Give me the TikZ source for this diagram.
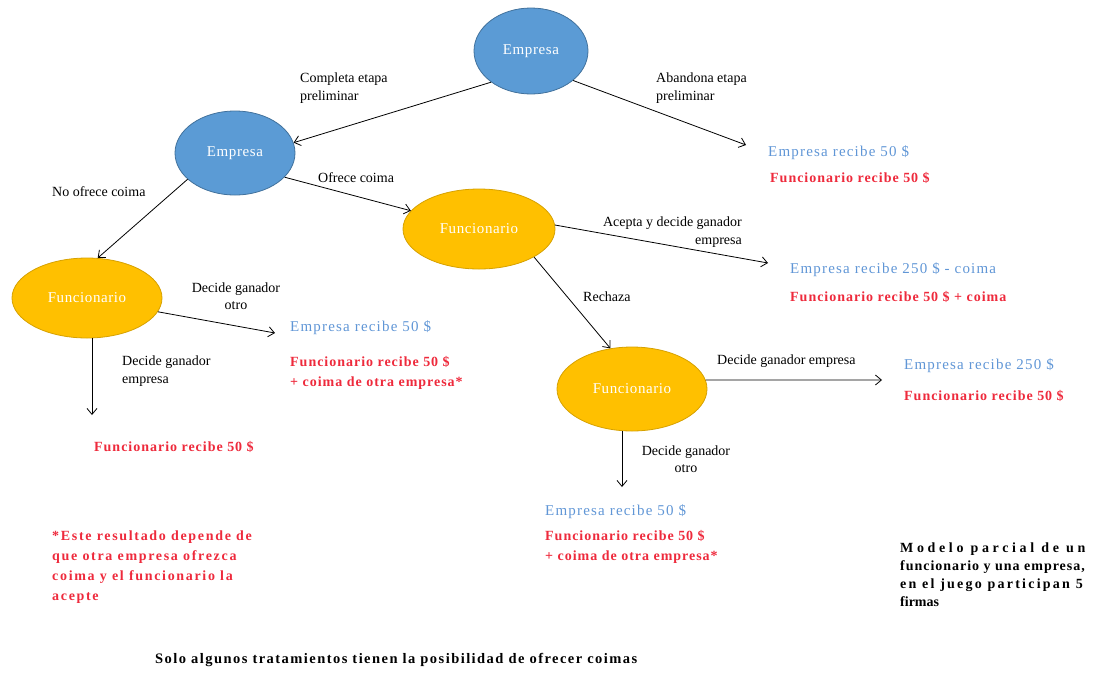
\documentclass[tikz,border=0pt]{standalone}
\usepackage{fontspec}
\setmainfont{Liberation Serif}
\newfontfamily\redfont[LetterSpace=7]{Liberation Serif}
\newfontfamily\fnfont[LetterSpace=12]{Liberation Serif}
\newfontfamily\bluefont[LetterSpace=8]{Liberation Serif}
\newfontfamily\ellfont[LetterSpace=4]{Liberation Serif}
\newfontfamily\notefont{Liberation Serif}
\newfontfamily\bottomfont[LetterSpace=10]{Liberation Serif}
\usetikzlibrary{shapes.geometric,arrows.meta}
\definecolor{eblue}{HTML}{5B9BD5}
\definecolor{eblueedge}{HTML}{41719C}
\definecolor{forange}{HTML}{FFC000}
\definecolor{forangeedge}{HTML}{D6A100}
\definecolor{tblue}{HTML}{6096D6}
\definecolor{tred}{HTML}{EE2A3C}
\begin{document}
\begin{tikzpicture}[x=1pt,y=-1pt,
  empresa/.style={ellipse,fill=eblue,draw=eblueedge,line width=0.8pt,text=white,font=\ellfont\fontsize{15}{17}\selectfont},
  funcionario/.style={ellipse,fill=forange,draw=forangeedge,line width=0.8pt,text=white,font=\ellfont\fontsize{15}{17}\selectfont},
  lbl/.style={font=\fontsize{14}{17.5}\selectfont,inner sep=0pt},
  bluetxt/.style={text=tblue,font=\bluefont\fontsize{15}{18}\selectfont,anchor=west,inner sep=0pt},
  redtxt/.style={text=tred,font=\redfont\bfseries\fontsize{14}{20}\selectfont,anchor=west,inner sep=0pt,align=left},
  fntxt/.style={text=tred,font=\fnfont\bfseries\fontsize{14}{20}\selectfont,anchor=west,inner sep=0pt,align=left},
  blacknote/.style={font=\notefont\bfseries\fontsize{14}{18}\selectfont,anchor=west,inner sep=0pt,align=left},
  bottomtxt/.style={font=\bottomfont\bfseries\fontsize{14.5}{18}\selectfont,anchor=west,inner sep=0pt},
  arr/.style={-{Straight Barb[length=6pt,width=10pt]},line width=0.8pt}]
\useasboundingbox (0,0) rectangle (1103,681);
% nodes
\node[empresa,minimum width=114pt,minimum height=86pt] (e1) at (531,51) {Empresa};
\node[empresa,minimum width=120pt,minimum height=84pt] (e2) at (235,153) {Empresa};
\node[funcionario,minimum width=152pt,minimum height=80pt] (fM) at (479,229) {Funcionario};
\node[funcionario,minimum width=150pt,minimum height=80pt] (fL) at (87,298) {Funcionario};
\node[funcionario,minimum width=150pt,minimum height=84pt] (fB) at (632,389) {Funcionario};
% arrow end points
\coordinate (c1) at (746,145);
\coordinate (c2) at (768,263);
\coordinate (c3) at (275,333);
\coordinate (c4s) at (92,338);
\coordinate (c4) at (92,415);
\coordinate (c5) at (882,380);
\coordinate (c6s) at (622,431);
\coordinate (c6) at (622,487);
% connectors
\draw[arr] (e1.218) -- (e2.10);
\draw[arr] (e1.-35) -- (c1);
\draw[arr] (e2.209) -- (fL.75);
\draw[arr] (e2.-26) -- (fM.165);
\draw[arr] (fM.3) -- (c2);
\draw[arr] (fM.-27) -- (fB.118);
\draw[arr] (fL.-11) -- (c3);
\draw[arr] (c4s) -- (c4);
\draw[arr] (fB.7) -- (c5);
\draw[arr] (c6s) -- (c6);
% edge labels
\node[lbl,anchor=west,align=left] (l1) at (300,88) {Completa etapa\\preliminar};
\node[lbl,anchor=west,align=left] (l2) at (656,88) {Abandona etapa\\preliminar};
\node[lbl,anchor=west] (l3) at (52,192) {No ofrece coima};
\node[lbl,anchor=west] (l4) at (318,178) {Ofrece coima};
\node[lbl,anchor=east,align=right] (l5) at (742,232) {Acepta y decide ganador\\empresa};
\node[lbl,anchor=west] (l6) at (583,297) {Rechaza};
\node[lbl,align=center] (l7) at (236,296) {Decide ganador\\otro};
\node[lbl,anchor=west,align=left] (l8) at (122,371) {Decide ganador\\empresa};
\node[lbl,anchor=west] (l9) at (717,361) {Decide ganador empresa};
\node[lbl,align=center] (l10) at (686,459) {Decide ganador\\otro};
% payoffs
\node[bluetxt] (p1b) at (768,153) {Empresa recibe 50 \$};
\node[redtxt] (p1r) at (770,178) {Funcionario recibe 50 \$};
\node[bluetxt] (p2b) at (790,270) {Empresa recibe 250 \$ - coima};
\node[redtxt] (p2r) at (790,297) {Funcionario recibe 50 \$ + coima};
\node[bluetxt] (p3b) at (290,328) {Empresa recibe 50 \$};
\node[redtxt] (p3r) at (290,373) {Funcionario recibe 50 \$\\+ coima de otra empresa*};
\node[redtxt] (p4r) at (94,447) {Funcionario recibe 50 \$};
\node[bluetxt] (p5b) at (904,366) {Empresa recibe 250 \$};
\node[redtxt] (p5r) at (904,396) {Funcionario recibe 50 \$};
\node[bluetxt] (p6b) at (545,512) {Empresa recibe 50 \$};
\node[redtxt] (p6r) at (545,547) {Funcionario recibe 50 \$\\+ coima de otra empresa*};
% notes
\node[fntxt] (fn) at (52,567) {*Este resultado depende de\\que otra empresa ofrezca\\coima y el funcionario la\\acepte};
\node[blacknote] (mn) at (900,575) {{\addfontfeature{LetterSpace=26}Modelo parcial de un}\\{\addfontfeature{LetterSpace=7}funcionario y una empresa,}\\{\addfontfeature{LetterSpace=16}en el juego participan 5}\\firmas};
\node[bottomtxt] (bt) at (155,660) {Solo algunos tratamientos tienen la posibilidad de ofrecer coimas};
\end{tikzpicture}
\end{document}
